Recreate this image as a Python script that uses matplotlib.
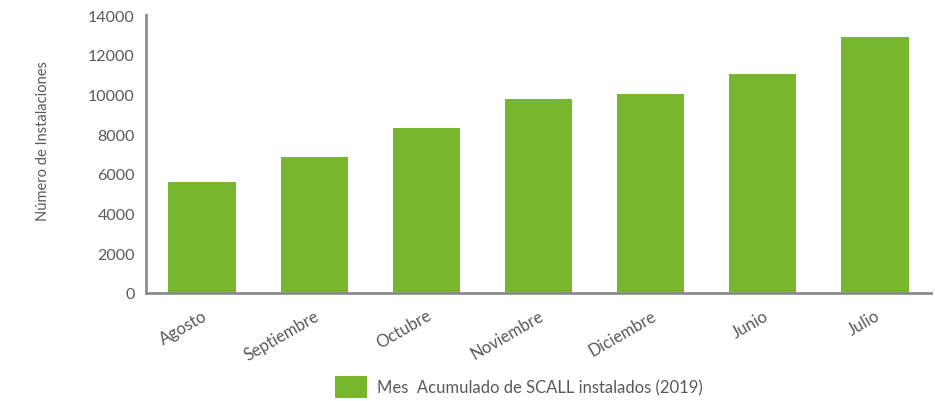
import matplotlib
matplotlib.use("Agg")
import matplotlib.pyplot as plt
from matplotlib.patches import Patch

MONTHS = ["Agosto", "Septiembre", "Octubre", "Noviembre", "Diciembre", "Junio", "Julio"]
INSTALLS = [5600, 6850, 8300, 9770, 10020, 11030, 12900]
YTICKS = [0, 2000, 4000, 6000, 8000, 10000, 12000, 14000]

GREEN = "#76b72d"
GREY_TXT = "#595959"
GREY_AX = "#8c8c8c"

plt.rcParams["font.family"] = ["Lato", "DejaVu Sans"]

fig = plt.figure(figsize=(9.35, 4.02), dpi=100)
ax = fig.add_axes([146 / 935, 1 - 294 / 402, (931 - 146) / 935, (294 - 16) / 402])

x = range(len(MONTHS))
ax.bar(x, INSTALLS, width=0.6, color=GREEN)

ax.set_xlim(-0.5, len(MONTHS) - 0.5)
ax.set_ylim(0, 14000)
ax.set_yticks(YTICKS)
ax.set_yticklabels([str(v) for v in YTICKS], fontsize=11.5, color=GREY_TXT)
ax.set_xticks(list(x))
ax.set_xticklabels(MONTHS, rotation=30, ha="right", rotation_mode="anchor",
                   fontsize=12, color=GREY_TXT)
ax.tick_params(axis="y", length=0, pad=8)
ax.tick_params(axis="x", length=0, pad=10)

for s in ["top", "right"]:
    ax.spines[s].set_visible(False)
for s in ["left", "bottom"]:
    ax.spines[s].set_color(GREY_AX)
    ax.spines[s].set_linewidth(2)

ax.set_ylabel("Número de Instalaciones", fontsize=10.5, color=GREY_TXT,
              family=["Liberation Sans Narrow", "Lato", "DejaVu Sans"])
ax.yaxis.set_label_coords(-0.122, 0.55)

handle = Patch(facecolor=GREEN, edgecolor="none")
fig.legend([handle], ["Mes  Acumulado de SCALL instalados (2019)"],
           loc="center", bbox_to_anchor=(0.555, 0.035), frameon=False,
           fontsize=12, labelcolor=GREY_TXT, handlelength=1.9, handleheight=1.7,
           handletextpad=0.6)

fig.savefig("out.png", dpi=100)
